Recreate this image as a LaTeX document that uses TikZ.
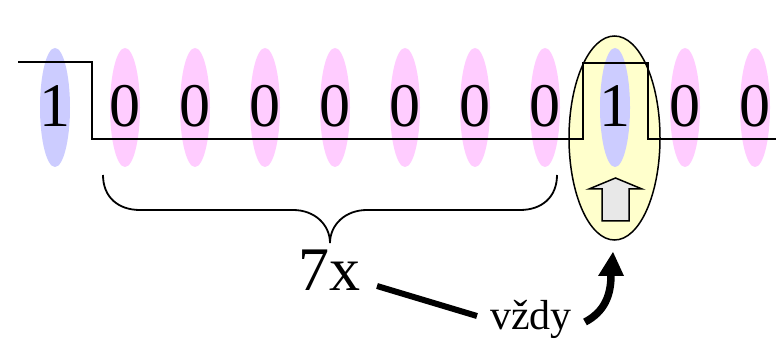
\documentclass[tikz,border=0pt]{standalone}
\usepackage{fontspec}
\setmainfont{Liberation Serif}
\usetikzlibrary{arrows.meta}
\definecolor{bitblue}{HTML}{CCCCFF}
\definecolor{bitpink}{HTML}{FFCCFF}
\definecolor{hiyellow}{HTML}{FFFFCC}
\definecolor{arrowgray}{HTML}{E8E8E8}
\tikzset{
  bitoval/.style={fill=#1, draw=none},
  digit/.style={anchor=base, inner sep=0pt, font=\fontsize{62}{62}\selectfont},
  signal/.style={line width=2pt, line join=miter},
  bracepath/.style={line width=1.8pt},
}
\begin{document}
\begin{tikzpicture}[x=1pt,y=-1pt]
\useasboundingbox (0,0) rectangle (776,344);
% highlighted bit
\draw[fill=hiyellow, line width=1.5pt] (614.5,138) ellipse [x radius=45.5, y radius=102];
% bit ovals
\fill[bitoval=bitblue] (55,107.5) ellipse [x radius=15, y radius=59.5];
\foreach \x in {125,195,265,335,405,475,545,685,755}
  \fill[bitoval=bitpink] (\x,107.5) ellipse [x radius=15, y radius=59.5];
\fill[bitoval=bitblue] (615,107.5) ellipse [x radius=15, y radius=59.5];
% signal
\draw[signal] (18,62) -- (92,62) -- (92,139) -- (583,139) -- (583,63) -- (648,63) -- (648,139) -- (776,139);
% digits
\node[digit] (d0) at (55,127) {1};
\foreach \x [count=\i] in {125,195,265,335,405,475,545}
  \node[digit] (d\i) at (\x,127) {0};
\node[digit] (d8) at (615,127) {1};
\node[digit] (d9) at (685,127) {0};
\node[digit] (d10) at (755,127) {0};
% block arrow
\draw[fill=arrowgray, line width=1.5pt, line join=miter]
  (602,221) -- (629,221) -- (629,189) -- (642,189) -- (615.5,178) -- (589,189) -- (602,189) -- cycle;
% brace
\draw[bracepath] (103,175) .. controls (103,197) and (118,210) .. (140,210) -- (293,210)
  .. controls (315,210) and (330,225) .. (330,243)
  .. controls (330,225) and (345,210) .. (367,210) -- (520,210)
  .. controls (542,210) and (557,197) .. (557,175);
% labels
\node[digit] (seven) at (329,291) {7x};
\node[anchor=base, inner sep=0pt, font=\fontsize{42}{42}\selectfont] (vzdy) at (531,330) {vždy};
\coordinate (lineA) at (377,286);
\coordinate (lineB) at (477,316);
\draw[line width=6pt] (lineA) -- (lineB);
% curved arrow
\coordinate (cA) at (585,322);
\coordinate (cB) at (611,275);
\draw[line width=7.5pt] (cA) .. controls (604,312) and (611,296) .. (cB);
\fill (598,276) -- (624,276) -- (613,252) -- cycle;
\end{tikzpicture}
\end{document}
